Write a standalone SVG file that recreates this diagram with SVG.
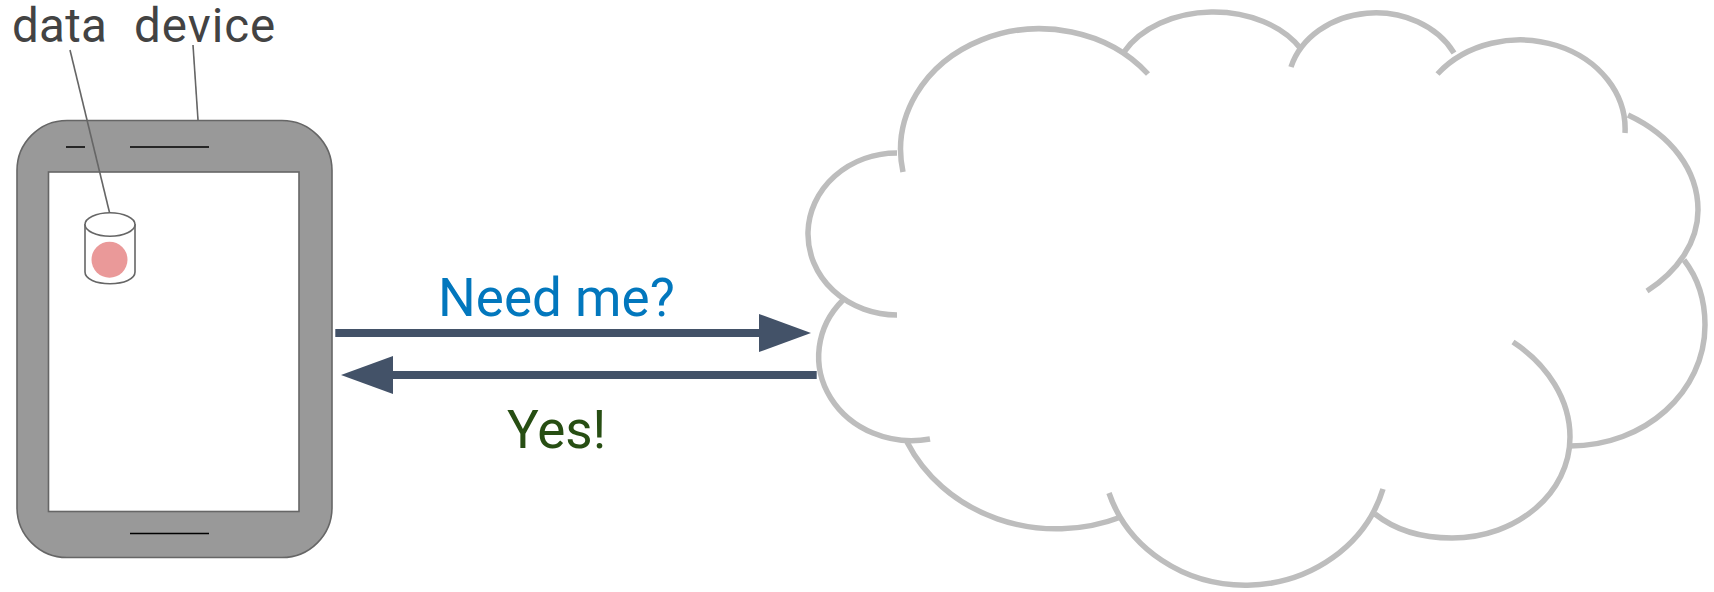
<svg xmlns="http://www.w3.org/2000/svg" width="1714" height="592" viewBox="0 0 1714 592">
<style>
.leader{fill:none;stroke:#666;stroke-width:1.6}
.slot{stroke:#000;stroke-width:1.6;fill:none}
.outline{stroke:#666;stroke-width:1.6}
.arc{fill:none;stroke:#bdbdbd;stroke-width:5.500}
.flow{fill:none;stroke:#435268;stroke-width:8;marker-end:url(#head)}
.lbl{font-family:Roboto,"Noto Sans",sans-serif;font-size:47.500px;fill:#434343}
.msg{font-family:Roboto,"Liberation Sans",sans-serif;font-size:53px}
</style>
<defs><marker id="head" markerUnits="userSpaceOnUse" markerWidth="52" markerHeight="38" refX="0" refY="19" orient="auto"><path d="M0 0L52 19L0 38Z" fill="#435268"/></marker></defs>
<rect width="1714" height="592" fill="#fff"/>
<g id="device">
<rect class="outline" x="17" y="120.500" width="315" height="437" rx="50" ry="50" fill="#999"/>
<rect class="outline" x="48.500" y="172" width="250.500" height="339.500" fill="#fff"/>
<path class="slot" d="M66 147H85M130 147H209M130 533.500H209"/>
</g>
<g id="data">
<path class="outline" d="M85 224V272C85 279 96 283.700 110 283.700S135 279 135 272V224" fill="#fff"/>
<ellipse class="outline" cx="110" cy="224.500" rx="25" ry="11.700" fill="#fff"/>
<circle cx="109.500" cy="259.700" r="18" fill="#ea9999"/>
</g>
<g id="cloud">
<path class="arc" d="M903 172A139 121 0 0 1 1148 74"/>
<path class="arc" d="M1124 52A100 72 0 0 1 1301 49"/>
<path class="arc" d="M1291 67A88 74 0 0 1 1454 53"/>
<path class="arc" d="M1437.500 74A105 89 0 0 1 1625 133"/>
<path class="arc" d="M1628 115C1671 135 1698 170 1698 210C1698 242 1678 271 1647 291"/>
<path class="arc" d="M1684 260C1698 278 1705 300 1705 325C1705 392 1645 446 1570 446"/>
<path class="arc" d="M1513 342C1548 365 1570 400 1570 437C1570 493 1517 538 1452 538C1421 538 1395 530 1375 514"/>
<path class="arc" d="M1383 489A143 132 0 0 1 1109 493"/>
<path class="arc" d="M1121 517A165 150 0 0 1 907 442"/>
<path class="arc" d="M843 300A93 84 0 0 0 930 439"/>
<path class="arc" d="M897 315A89 81 0 0 1 808 232A89 81 0 0 1 897 153"/>
</g>
<g id="connectors">
<path class="leader" d="M70 50L109.500 212.500"/>
<path class="leader" d="M193 45L198 120"/>
<path class="flow" d="M335.300 333H759"/>
<path class="flow" d="M816.700 375H393"/>
</g>
<g id="labels">
<text class="lbl" x="12" y="42" letter-spacing=".3">data</text>
<text class="lbl" x="134" y="42" letter-spacing="1">device</text>
<text class="msg" x="438" y="316" fill="#0277bd">Need me?</text>
<text class="msg" x="507" y="448" fill="#274e13">Yes!</text>
</g>
</svg>
